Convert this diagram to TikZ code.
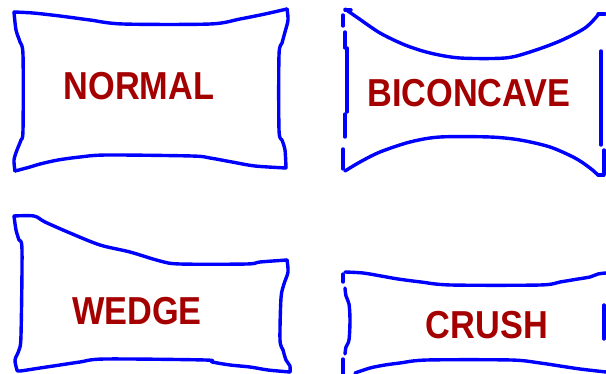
\documentclass[tikz,border=0pt]{standalone}
\usepackage{fontspec}
\setmainfont{Liberation Sans}
\usepackage{graphicx}
\usepackage{tikz}
\usetikzlibrary{positioning}
\definecolor{rimblue}{RGB}{0,0,255}
\definecolor{wordred}{RGB}{165,0,0}

\begin{document}
\begin{tikzpicture}[x=1pt, y=-1pt,
    outline/.style={rimblue, line width=3.4pt, line cap=round, line join=round},
    word/.style={text=wordred, inner sep=0pt, font=\fontsize{39}{40}\selectfont\bfseries}]
      \useasboundingbox (0,0) rectangle (606,374);
      % normal disc
      \draw[outline] plot[smooth, tension=0.5] coordinates {(14,12) (33,13) (60,16) (90,20) (123,24) (210,24) (240,19) (265,14) (287,9)};
      \draw[outline] plot[smooth, tension=0.5] coordinates {(287,9) (288,20) (285,32) (282,43) (279,55) (279,130) (282,140) (285,150) (286,168)};
      \draw[outline] plot[smooth, tension=0.5] coordinates {(286,168) (255,166) (232,162) (210,158) (192,156) (107,155) (80,157) (58,160) (40,164) (30,167) (15,171)};
      \draw[outline] plot[smooth, tension=0.5] coordinates {(15,171) (14,160) (17,150) (21,140) (23,130) (23,55) (20,42) (16,30) (14,12)};
      \node[word] (normal) at (139,86) {\scalebox{0.88}[1]{NORMAL}};
      % biconcave disc
      \draw[outline] (345,10) -- (351,10);
      \draw[outline] plot[smooth, tension=0.5] coordinates {(345,9) (358,18) (380,33) (405,45) (430,53) (460,58) (505,58) (530,52) (560,41) (585,28) (598,15)};
      \draw[outline] (598,14) -- (605,14);
      \draw[outline] (601,51) -- (601,145);
      \draw[outline] (604,150) -- (604,174);
      \draw[outline] plot[smooth, tension=0.5] coordinates {(345,171) (360,162) (380,152) (410,142) (440,137) (490,137) (520,140) (550,147) (575,158) (590,168) (598,175)};
      \draw[outline] (598,175) -- (604,175);
      \draw[outline] (343,15) -- (343,26);
      \draw[outline] (345,32) -- (345,48);
      \draw[outline] (347,48) -- (347,112);
      \draw[outline] (345,114) -- (345,137);
      \draw[outline] (343,149) -- (343,169);
      \node[word] (biconcave) at (469,93) {\scalebox{0.88}[1]{BICONCAVE}};
      % wedge
      \draw[outline] plot[smooth, tension=0.5] coordinates {(14,216) (34,216) (45,222) (70,233) (100,245) (130,252) (160,261) (180,264) (247,264) (260,262) (287,260)};
      \draw[outline] plot[smooth, tension=0.5] coordinates {(287,260) (288,272) (284,284) (281,298) (280,340) (283,350) (286,360) (290,366) (290,372)};
      \draw[outline] plot[smooth, tension=0.5] coordinates {(290,372) (268,370) (250,367) (230,365) (212,362) (205,360) (105,359) (80,362) (60,365) (40,368) (20,371) (17,370)};
      \draw[outline] plot[smooth, tension=0.5] coordinates {(17,370) (15,360) (19,350) (21,335) (22,250) (19,240) (16,230) (14,216)};
      \node[word] (wedge) at (137,311) {\scalebox{0.88}[1]{WEDGE}};
      % crush
      \draw[outline] plot[smooth, tension=0.5] coordinates {(345,272) (363,273) (381,276) (398,279) (421,282) (451,285) (540,285) (560,282) (578,279) (590,277) (598,274) (606,273)};
      \draw[outline] (343,274) -- (343,282);
      \draw[outline] plot[smooth, tension=0.5] coordinates {(345,288) (346,296) (349,304) (350,320) (349,340) (346,347) (345,354)};
      \draw[outline] (343,359) -- (343,374);
      \draw[outline] plot[smooth, tension=0.5] coordinates {(355,373) (370,368) (385,365) (400,363) (427,360) (511,360) (540,363) (560,366) (580,369) (606,372)};
      \draw[outline] (604,305) -- (604,339);
      \node[word] (crush) at (487,325) {\scalebox{0.88}[1]{CRUSH}};
\end{tikzpicture}
\end{document}
